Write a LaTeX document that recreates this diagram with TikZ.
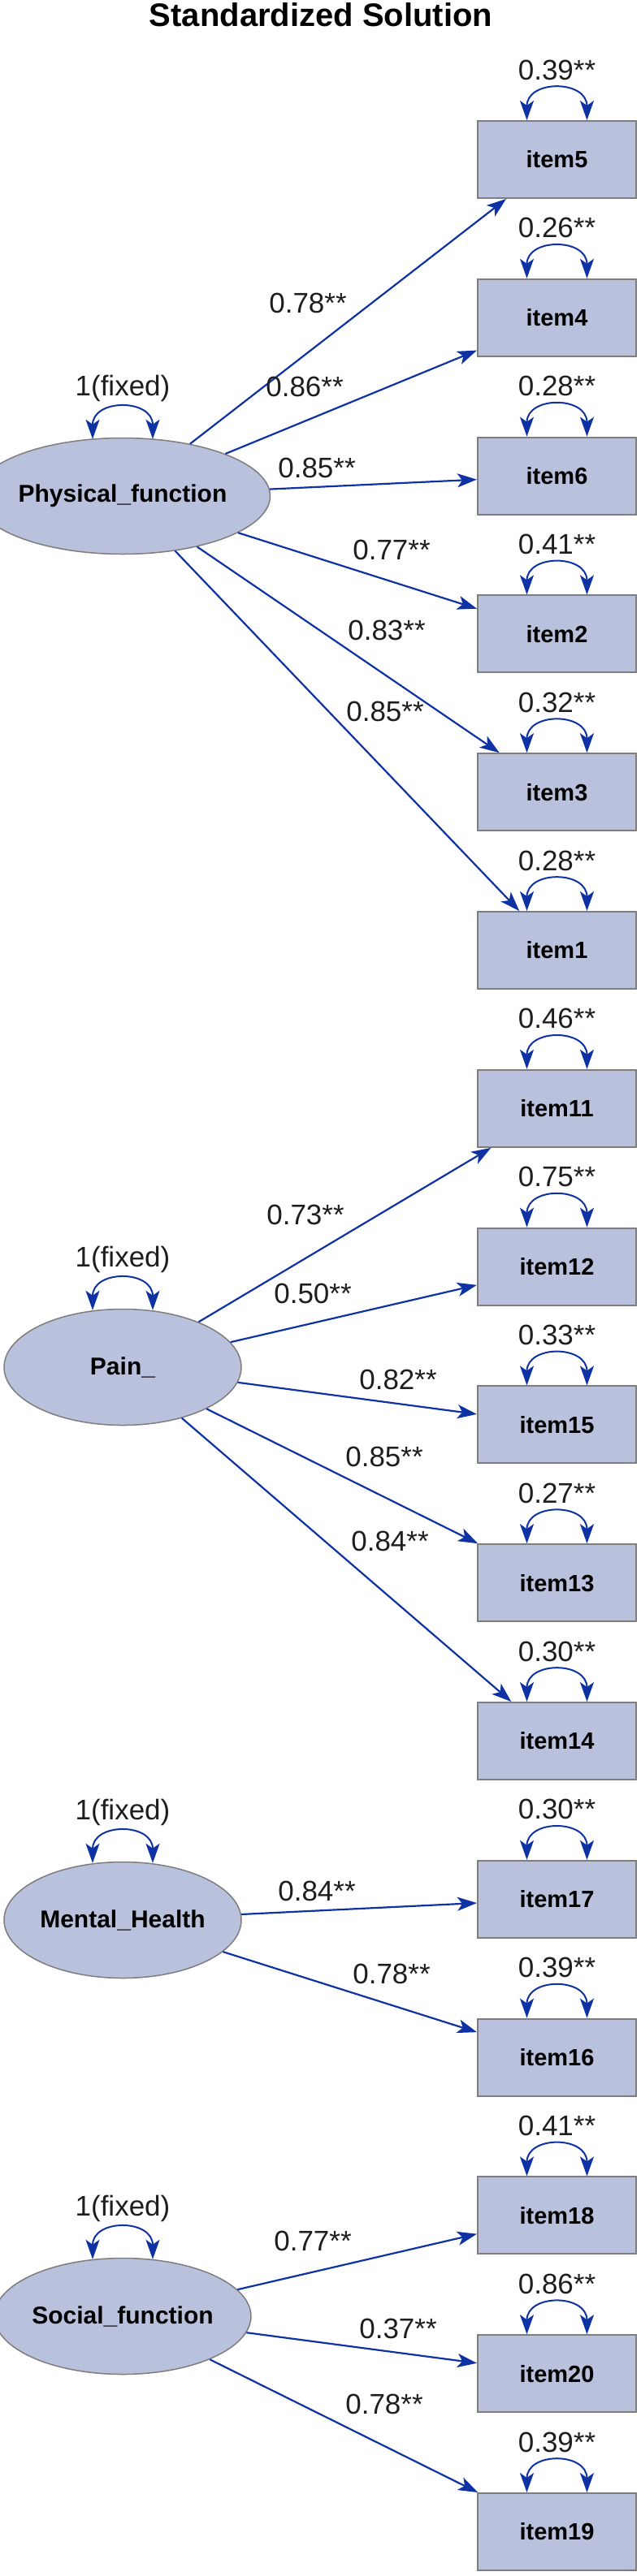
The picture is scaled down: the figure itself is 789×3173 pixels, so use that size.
\documentclass[tikz,border=0pt]{standalone}
\usepackage{fontspec}
\setmainfont{Liberation Sans}
\usetikzlibrary{arrows.meta, shapes.geometric, calc}

\definecolor{semfill}{RGB}{185,193,220}
\definecolor{semedge}{RGB}{125,125,125}
\definecolor{semblue}{RGB}{14,50,163}
\definecolor{semtext}{RGB}{30,30,30}

\begin{document}
\begin{tikzpicture}[
    x=1pt, y=-1pt,
    latent/.style={ellipse, draw=semedge, line width=1.5pt, fill=semfill, minimum width=292pt, minimum height=143pt, inner sep=0pt, font=\fontsize{30}{34}\selectfont\bfseries},
    obs/.style={rectangle, draw=semedge, line width=2pt, fill=semfill, minimum width=195pt, minimum height=95pt, inner sep=0pt, font=\fontsize{29}{33}\selectfont\bfseries},
    coef/.style={font=\fontsize{35}{40}\selectfont, text=semtext, inner sep=0pt},
    load/.style={-{Stealth[length=24pt, width=17pt, inset=6pt]}, semblue, line width=2.2pt},
    var/.style={{Stealth[length=24pt, width=17pt, inset=6pt]}-{Stealth[length=24pt, width=17pt, inset=6pt]}, semblue, line width=2pt},
    title/.style={font=\fontsize{40}{44}\selectfont\bfseries}
]
\useasboundingbox (0,0) rectangle (789,3173);

\node[title] (head) at (395,18) {Standardized Solution};

% ============ LATENT FACTORS ============
\node[latent] (pf) at (151,611) {Physical\_function};
\node[latent] (pain) at (151,1684) {Pain\_};
\node[latent] (mh) at (151,2365) {Mental\_Health};
\node[latent] (sf) at (151,2853) {Social\_function};

% ============ OBSERVED ITEMS ============
\node[obs] (i5) at (685.5,196.5) {item5};
\node[obs] (i4) at (685.5,391.3) {item4};
\node[obs] (i6) at (685.5,586.1) {item6};
\node[obs] (i2) at (685.5,780.9) {item2};
\node[obs] (i3) at (685.5,975.7) {item3};
\node[obs] (i1) at (685.5,1170.5) {item1};
\node[obs] (i11) at (685.5,1365.3) {item11};
\node[obs] (i12) at (685.5,1560.1) {item12};
\node[obs] (i15) at (685.5,1754.9) {item15};
\node[obs] (i13) at (685.5,1949.7) {item13};
\node[obs] (i14) at (685.5,2144.5) {item14};
\node[obs] (i17) at (685.5,2339.3) {item17};
\node[obs] (i16) at (685.5,2534.1) {item16};
\node[obs] (i18) at (685.5,2728.9) {item18};
\node[obs] (i20) at (685.5,2923.7) {item20};
\node[obs] (i19) at (685.5,3118.5) {item19};

% ============ FACTOR LOADINGS ============
\draw[load] (pf) -- (i5);
\draw[load] (pf) -- (i4);
\draw[load] (pf) -- (i6);
\draw[load] (pf) -- (i2);
\draw[load] (pf) -- (i3);
\draw[load] (pf) -- (i1);
\node[coef] (l5) at (379,373) {0.78**};
\node[coef] (l4) at (375,476) {0.86**};
\node[coef] (l6) at (390,576) {0.85**};
\node[coef] (l2) at (482,677) {0.77**};
\node[coef] (l3) at (476,776) {0.83**};
\node[coef] (l1) at (474,876) {0.85**};

\draw[load] (pain) -- (i11);
\draw[load] (pain) -- (i12);
\draw[load] (pain) -- (i15);
\draw[load] (pain) -- (i13);
\draw[load] (pain) -- (i14);
\node[coef] (l11) at (376,1496) {0.73**};
\node[coef] (l12) at (385,1593) {0.50**};
\node[coef] (l15) at (490,1699) {0.82**};
\node[coef] (l13) at (473,1794) {0.85**};
\node[coef] (l14) at (480,1898) {0.84**};

\draw[load] (mh) -- (i17);
\draw[load] (mh) -- (i16);
\node[coef] (l17) at (390,2329) {0.84**};
\node[coef] (l16) at (482,2431) {0.78**};

\draw[load] (sf) -- (i18);
\draw[load] (sf) -- (i20);
\draw[load] (sf) -- (i19);
\node[coef] (l18) at (385,2760) {0.77**};
\node[coef] (l20) at (490,2868) {0.37**};
\node[coef] (l19) at (473,2961) {0.78**};

% ============ FACTOR VARIANCES ============
\draw[var] ($(pf.north)+(-37,2)$) .. controls +(0,-50) and +(0,-50) .. ($(pf.north)+(37,2)$);
\draw[var] ($(pain.north)+(-37,2)$) .. controls +(0,-50) and +(0,-50) .. ($(pain.north)+(37,2)$);
\draw[var] ($(mh.north)+(-37,2)$) .. controls +(0,-50) and +(0,-50) .. ($(mh.north)+(37,2)$);
\draw[var] ($(sf.north)+(-37,2)$) .. controls +(0,-50) and +(0,-50) .. ($(sf.north)+(37,2)$);
\node[coef] (fpf) at ($(pf.north)+(0,-60)$) {1(fixed)};
\node[coef] (fpain) at ($(pain.north)+(0,-60)$) {1(fixed)};
\node[coef] (fmh) at ($(mh.north)+(0,-60)$) {1(fixed)};
\node[coef] (fsf) at ($(sf.north)+(0,-60)$) {1(fixed)};

% ============ ERROR VARIANCES ============
\draw[var] ($(i5.north)+(-37,0)$) .. controls +(0,-50) and +(0,-50) .. ($(i5.north)+(37,0)$);
\draw[var] ($(i4.north)+(-37,0)$) .. controls +(0,-50) and +(0,-50) .. ($(i4.north)+(37,0)$);
\draw[var] ($(i6.north)+(-37,0)$) .. controls +(0,-50) and +(0,-50) .. ($(i6.north)+(37,0)$);
\draw[var] ($(i2.north)+(-37,0)$) .. controls +(0,-50) and +(0,-50) .. ($(i2.north)+(37,0)$);
\draw[var] ($(i3.north)+(-37,0)$) .. controls +(0,-50) and +(0,-50) .. ($(i3.north)+(37,0)$);
\draw[var] ($(i1.north)+(-37,0)$) .. controls +(0,-50) and +(0,-50) .. ($(i1.north)+(37,0)$);
\draw[var] ($(i11.north)+(-37,0)$) .. controls +(0,-50) and +(0,-50) .. ($(i11.north)+(37,0)$);
\draw[var] ($(i12.north)+(-37,0)$) .. controls +(0,-50) and +(0,-50) .. ($(i12.north)+(37,0)$);
\draw[var] ($(i15.north)+(-37,0)$) .. controls +(0,-50) and +(0,-50) .. ($(i15.north)+(37,0)$);
\draw[var] ($(i13.north)+(-37,0)$) .. controls +(0,-50) and +(0,-50) .. ($(i13.north)+(37,0)$);
\draw[var] ($(i14.north)+(-37,0)$) .. controls +(0,-50) and +(0,-50) .. ($(i14.north)+(37,0)$);
\draw[var] ($(i17.north)+(-37,0)$) .. controls +(0,-50) and +(0,-50) .. ($(i17.north)+(37,0)$);
\draw[var] ($(i16.north)+(-37,0)$) .. controls +(0,-50) and +(0,-50) .. ($(i16.north)+(37,0)$);
\draw[var] ($(i18.north)+(-37,0)$) .. controls +(0,-50) and +(0,-50) .. ($(i18.north)+(37,0)$);
\draw[var] ($(i20.north)+(-37,0)$) .. controls +(0,-50) and +(0,-50) .. ($(i20.north)+(37,0)$);
\draw[var] ($(i19.north)+(-37,0)$) .. controls +(0,-50) and +(0,-50) .. ($(i19.north)+(37,0)$);

\node[coef] (e5) at ($(i5.north)+(0,-62)$) {0.39**};
\node[coef] (e4) at ($(i4.north)+(0,-62)$) {0.26**};
\node[coef] (e6) at ($(i6.north)+(0,-62)$) {0.28**};
\node[coef] (e2) at ($(i2.north)+(0,-62)$) {0.41**};
\node[coef] (e3) at ($(i3.north)+(0,-62)$) {0.32**};
\node[coef] (e1) at ($(i1.north)+(0,-62)$) {0.28**};
\node[coef] (e11) at ($(i11.north)+(0,-62)$) {0.46**};
\node[coef] (e12) at ($(i12.north)+(0,-62)$) {0.75**};
\node[coef] (e15) at ($(i15.north)+(0,-62)$) {0.33**};
\node[coef] (e13) at ($(i13.north)+(0,-62)$) {0.27**};
\node[coef] (e14) at ($(i14.north)+(0,-62)$) {0.30**};
\node[coef] (e17) at ($(i17.north)+(0,-62)$) {0.30**};
\node[coef] (e16) at ($(i16.north)+(0,-62)$) {0.39**};
\node[coef] (e18) at ($(i18.north)+(0,-62)$) {0.41**};
\node[coef] (e20) at ($(i20.north)+(0,-62)$) {0.86**};
\node[coef] (e19) at ($(i19.north)+(0,-62)$) {0.39**};

\end{tikzpicture}
\end{document}
